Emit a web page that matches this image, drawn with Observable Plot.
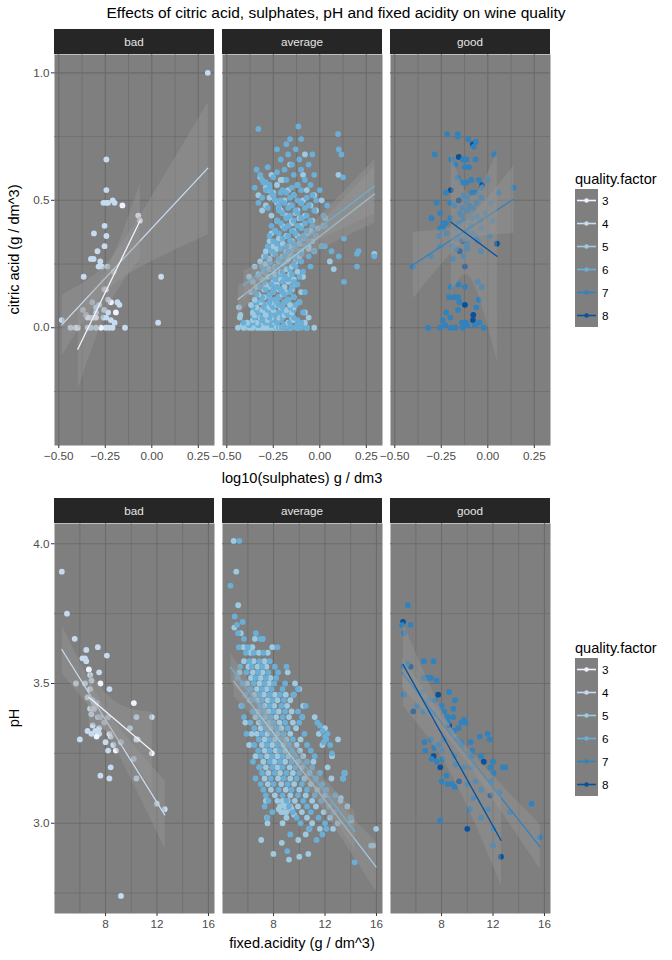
<!DOCTYPE html>
<html><head><meta charset="utf-8">
<script src="https://cdn.jsdelivr.net/npm/d3@7"></script>
<script src="https://cdn.jsdelivr.net/npm/@observablehq/plot@0.6"></script>
<style>
body{margin:0;background:#fff;}
#root{position:relative;width:672px;height:960px;overflow:hidden;background:#fff;font-family:"Liberation Sans",Arial,sans-serif;}
#root svg.plot{position:absolute;left:0;}
</style></head><body><div id="root"></div>
<script>
const FONT = '"Liberation Sans", Arial, sans-serif';
const qualities = [3,4,5,6,7,8];
const qualityColors = ["#EFF3FF","#C6DBEF","#9ECAE1","#6BAED6","#3182BD","#08519C"];
const panels = ["bad","average","good"];

const titleText = "Effects of citric acid, sulphates, pH and fixed acidity on wine quality";
const topXTitle = "log10(sulphates) g / dm3";
const topYTitle = "citric acid (g / dm^3)";
const botXTitle = "fixed.acidity (g / dm^3)";
const botYTitle = "pH";
const legendTitle = "quality.factor";

const sulphDomain = [-0.523, 0.337];
const sulphTicks = [-0.5,-0.25,0,0.25];
const sulphMinor = [-0.375,-0.125,0.125];
const citricDomain = [-0.462, 1.072];
const citricTicks = [0,0.5,1];
const citricMinor = [-0.25,0.25,0.75];
const acidDomain = [4.03, 16.47];
const acidTicks = [8,12,16];
const acidMinor = [6,10,14];
const phDomain = [2.677, 4.0725];
const phTicks = [3,3.5,4];
const phMinor = [2.75,3.25,3.75];

// ---- top: log10(sulphates) [x] vs citric acid [y] ----
const topBadQ3 = [[-0.398,0],[-0.345,0.04],[-0.30,0.04],[-0.273,0],[-0.247,0.15],[-0.22,0.10],[-0.193,0.06],[-0.158,0.48],[-0.073,0.44],[-0.064,0.42]];
const topBadQ4 = [[0.301,1.0],[-0.244,0.66],[-0.244,0.54],[-0.26,0.49],[-0.245,0.49],[-0.235,0.49],[-0.21,0.50],[-0.20,0.49],[-0.254,0.40],[-0.311,0.37],[-0.244,0.36],[-0.254,0.32],[-0.292,0.30],[-0.327,0.27],[-0.313,0.27],[-0.277,0.26],[-0.286,0.24],[-0.268,0.24],[-0.238,0.24],[-0.366,0.20],[0.05,0.20],[-0.205,0.22],[-0.256,0.15],[-0.174,0.09],[-0.30,0.08],[-0.256,0.07],[-0.30,0.06],[-0.235,0.06],[-0.354,0.05],[-0.33,0.04],[-0.313,0.04],[-0.26,0.04],[-0.245,0.04],[-0.22,0.03],[-0.20,0.02],[-0.484,0.03],[0.034,0.02],[-0.437,0],[-0.41,0],[-0.345,0],[-0.327,0],[-0.30,0],[-0.247,0],[-0.229,0],[-0.211,0],[-0.144,0],[-0.37,0.07],[-0.32,0.10],[-0.283,0.09],[-0.235,0.11],[-0.185,0.10]];

// rows: [citric acid, [log10 sulphates ...]]
const topAvgQ5 = [
 [0.00,[-0.44,-0.41,-0.38,-0.36,-0.33,-0.31,-0.29,-0.27,-0.25,-0.23,-0.21,-0.19,-0.16,-0.12,-0.07,-0.03]],
 [0.01,[-0.415,-0.32,-0.26,-0.19,-0.12]],
 [0.02,[-0.39,-0.34,-0.29,-0.24,-0.17,-0.08]],
 [0.03,[-0.36,-0.28,-0.21,-0.14]],
 [0.04,[-0.43,-0.32,-0.26,-0.22,-0.15,-0.06]],
 [0.05,[-0.427,-0.35,-0.29,-0.19]],
 [0.06,[-0.36,-0.29,-0.22,-0.15,-0.08]],
 [0.07,[-0.31,-0.25,-0.18]],
 [0.08,[-0.434,-0.34,-0.27,-0.21,-0.14]],
 [0.09,[-0.37,-0.29,-0.23,-0.16]],
 [0.10,[-0.32,-0.26,-0.19,-0.11]],
 [0.11,[-0.35,-0.24,-0.17]],
 [0.12,[-0.30,-0.22,-0.14]],
 [0.13,[-0.33,-0.27,-0.20]],
 [0.14,[-0.37,-0.25,-0.18,-0.10]],
 [0.15,[-0.30,-0.22,-0.15]],
 [0.16,[-0.34,-0.27,-0.19]],
 [0.17,[-0.29,-0.23,-0.13]],
 [0.18,[-0.36,-0.25,-0.17]],
 [0.19,[-0.31,-0.21,-0.14]],
 [0.20,[-0.38,-0.28,-0.19,-0.09]],
 [0.21,[-0.33,-0.24,-0.16]],
 [0.22,[-0.30,-0.21,-0.12]],
 [0.23,[-0.27,-0.18,0.075]],
 [0.24,[-0.35,-0.24,-0.15]],
 [0.25,[-0.29,-0.20]],
 [0.26,[-0.32,-0.22,-0.13,0.054]],
 [0.27,[-0.27,-0.17]],
 [0.28,[-0.30,-0.20,-0.11]],
 [0.29,[-0.25,-0.16,0.293]],
 [0.30,[-0.29,-0.18,-0.10,-0.03]],
 [0.31,[-0.23,-0.14,-0.06]],
 [0.32,[-0.25,-0.16,-0.06,0.01]],
 [0.33,[-0.20,-0.11]],
 [0.34,[-0.27,-0.15,-0.04]],
 [0.35,[-0.22,-0.09]],
 [0.36,[-0.18,-0.12,-0.02]],
 [0.37,[-0.26,-0.07]],
 [0.38,[-0.24,-0.14,-0.05]],
 [0.39,[-0.19,-0.01]],
 [0.40,[-0.20,-0.10,0.02]],
 [0.41,[-0.15]],
 [0.42,[-0.23,-0.15,-0.04]],
 [0.43,[-0.11,0.03]],
 [0.44,[-0.18,-0.08,-0.26]],
 [0.45,[-0.13,-0.20]],
 [0.46,[-0.21,-0.12,-0.02,-0.31]],
 [0.47,[-0.22]],
 [0.48,[-0.16,-0.05,-0.29]],
 [0.49,[-0.10,-0.23]],
 [0.50,[-0.19,-0.09,0.01,-0.24]],
 [0.51,[-0.27]],
 [0.52,[-0.14,-0.03,-0.33,-0.25]],
 [0.53,[-0.25]],
 [0.54,[-0.17,-0.07,-0.28,-0.27]],
 [0.55,[-0.29]],
 [0.56,[-0.12,-0.23]],
 [0.57,[-0.30]],
 [0.58,[-0.20,-0.21]],
 [0.59,[-0.32]],
 [0.60,[-0.09,0.10,-0.26]],
 [0.64,[-0.16]],
 [0.68,[-0.08]]
];
const topAvgQ6 = [
 [0.00,[-0.40,-0.37,-0.34,-0.32,-0.30,-0.28,-0.265,-0.25,-0.235,-0.22,-0.205,-0.19,-0.17,-0.15,-0.125,-0.10,-0.07]],
 [0.01,[-0.38,-0.33,-0.26,-0.19,-0.12]],
 [0.02,[-0.41,-0.36,-0.29,-0.23,-0.16,-0.10]],
 [0.03,[-0.31,-0.25,-0.21,-0.12]],
 [0.04,[-0.35,-0.31,-0.27,-0.20,-0.14]],
 [0.05,[-0.36,-0.30,-0.24,-0.17]],
 [0.06,[-0.33,-0.26,-0.22,-0.18,-0.09]],
 [0.07,[-0.34,-0.28,-0.21,-0.14]],
 [0.08,[-0.36,-0.30,-0.25,-0.20,-0.16]],
 [0.09,[-0.30,-0.26,-0.22,-0.13]],
 [0.10,[-0.34,-0.27,-0.23,-0.19,-0.11]],
 [0.11,[-0.31,-0.24,-0.17]],
 [0.12,[-0.31,-0.27,-0.22,-0.14]],
 [0.13,[-0.34,-0.27,-0.19]],
 [0.14,[-0.35,-0.25,-0.20,-0.16,-0.08]],
 [0.15,[-0.29,-0.25,-0.21]],
 [0.16,[-0.32,-0.23,-0.15]],
 [0.17,[-0.26,-0.12]],
 [0.18,[-0.30,-0.20,-0.14,0.13]],
 [0.19,[-0.24,-0.17]],
 [0.20,[-0.33,-0.26,-0.19,-0.11]],
 [0.21,[-0.22,-0.15]],
 [0.22,[-0.29,-0.20,-0.09]],
 [0.23,[-0.25,-0.16]],
 [0.24,[-0.31,-0.23,-0.13,-0.05,0.20]],
 [0.25,[-0.20,-0.14]],
 [0.26,[-0.27,-0.18,-0.10]],
 [0.27,[-0.22,-0.12]],
 [0.28,[-0.29,-0.19,-0.14,-0.06,0.102,0.293]],
 [0.29,[-0.24,-0.10,0.20]],
 [0.30,[-0.26,-0.17,-0.11,-0.03,0.063,0.208]],
 [0.31,[-0.21,-0.13]],
 [0.32,[-0.28,-0.18,-0.08,0.01,0.027]],
 [0.33,[-0.23,-0.14]],
 [0.34,[-0.25,-0.16,-0.06]],
 [0.35,[-0.20,-0.11,0.13]],
 [0.36,[-0.27,-0.17,-0.09,-0.02]],
 [0.37,[-0.22,-0.13]],
 [0.38,[-0.24,-0.15,-0.07]],
 [0.39,[-0.19,-0.10]],
 [0.40,[-0.26,-0.17,-0.12,-0.04,0.03]],
 [0.41,[-0.21,-0.08]],
 [0.42,[-0.23,-0.14,-0.05]],
 [0.43,[-0.18,-0.10]],
 [0.44,[-0.16,-0.07,0.02]],
 [0.45,[-0.20,-0.12]],
 [0.46,[-0.22,-0.13,-0.03]],
 [0.47,[-0.17,-0.08,-0.28]],
 [0.48,[-0.15,-0.06,0.04,-0.22]],
 [0.49,[-0.19,-0.10,-0.33]],
 [0.50,[-0.21,-0.12,-0.02,-0.24]],
 [0.51,[-0.16,-0.07,-0.31]],
 [0.52,[-0.14,-0.04,-0.25]],
 [0.53,[-0.18,-0.21,-0.26]],
 [0.54,[-0.20,-0.10,0.00,-0.29]],
 [0.55,[-0.15,-0.35,-0.27]],
 [0.56,[-0.12,-0.05,-0.27]],
 [0.57,[-0.30,-0.29]],
 [0.58,[-0.18,-0.08,-0.31]],
 [0.59,[0.125,-0.25]],
 [0.60,[-0.14,-0.03,-0.32]],
 [0.61,[-0.23]],
 [0.62,[-0.19,-0.10,-0.34]],
 [0.63,[-0.28]],
 [0.64,[-0.15,-0.06]],
 [0.66,[-0.21,-0.11]],
 [0.68,[-0.17,-0.04,0.116]],
 [0.70,[-0.23,-0.13,0.102]],
 [0.72,[-0.18]],
 [0.74,[-0.16,-0.10]],
 [0.76,[0.098]],
 [0.78,[-0.33]],
 [0.79,[-0.115]]
];

const topGoodQ7 = [[-0.218,0.76],[-0.162,0.76],[-0.162,0.75],[-0.105,0.74],[-0.075,0.71],[-0.064,0.73],[-0.286,0.68],[-0.197,0.66],[-0.133,0.66],[-0.114,0.66],[-0.066,0.66],[0.035,0.68],[-0.176,0.64],[-0.123,0.63],[-0.101,0.63],[-0.162,0.59],[-0.14,0.57],[-0.116,0.57],[-0.089,0.58],[-0.048,0.58],[0.0,0.58],[-0.034,0.55],[-0.225,0.53],[-0.131,0.52],[-0.084,0.53],[-0.066,0.53],[-0.112,0.51],[-0.036,0.51],[0.138,0.55],[0.058,0.53],[-0.275,0.49],[-0.202,0.49],[-0.101,0.48],[-0.179,0.48],[-0.137,0.47],[-0.08,0.47],[0.014,0.49],[-0.303,0.43],[-0.256,0.45],[-0.11,0.46],[-0.059,0.44],[-0.013,0.45],[0.026,0.42],[-0.225,0.41],[-0.24,0.41],[-0.155,0.41],[-0.087,0.43],[-0.172,0.39],[-0.257,0.39],[-0.24,0.39],[-0.11,0.38],[-0.034,0.39],[0.01,0.36],[-0.261,0.36],[-0.22,0.37],[-0.158,0.36],[-0.123,0.35],[-0.066,0.36],[-0.054,0.34],[-0.305,0.28],[-0.257,0.32],[-0.19,0.32],[-0.112,0.33],[-0.11,0.31],[-0.038,0.30],[-0.171,0.31],[-0.403,0.24],[-0.131,0.28],[-0.186,0.27],[-0.14,0.44],[-0.09,0.40],[-0.20,0.43],[-0.15,0.45],[-0.06,0.49],[-0.12,0.50],[-0.17,0.35],[-0.08,0.37],[-0.13,0.42],[-0.04,0.42],
 [-0.199,0.16],[-0.158,0.17],[-0.123,0.16],[-0.054,0.18],[-0.034,0.16],[-0.208,0.12],[-0.181,0.12],[-0.16,0.12],[-0.048,0.11],[-0.153,0.10],[-0.062,0.08],[-0.16,0.07],[-0.224,0.06],[-0.202,0.04],[-0.243,0.03],[-0.229,0.01],[-0.32,0],[-0.257,0],[-0.199,0],[-0.174,0],[-0.14,0.02],[-0.119,0.02],[-0.133,0],[-0.11,0.01],[-0.07,0.01],[-0.045,0.02],[-0.022,0]];
const topGoodQ8 = [[-0.080,0.72],[-0.156,0.67],[-0.03,0.56],[-0.199,0.54],[-0.156,0.50],[-0.137,0.34],[0.049,0.33],[-0.151,0.30],[-0.123,0.24],[-0.123,0.09],[-0.08,0.03],[-0.078,0.05]];

// ---- bottom: fixed acidity [x] vs pH [y] ----
const botBadQ3 = [[6.7,3.55],[6.8,3.48],[7.1,3.41],[7.3,3.31],[7.6,3.50],[8.3,3.32],[8.8,3.26],[10.2,3.43],[10.4,3.30],[11.6,3.25]];
const botBadQ4 = [[4.6,3.90],[5.0,3.75],[5.6,3.66],[6.5,3.62],[7.4,3.63],[8.1,3.60],[6.2,3.59],[6.4,3.59],[6.5,3.58],[6.8,3.53],[6.9,3.51],[7.5,3.54],[5.7,3.50],[6.4,3.50],[8.3,3.48],[6.6,3.45],[7.0,3.44],[7.1,3.43],[6.8,3.41],[7.1,3.41],[7.3,3.43],[6.9,3.39],[7.4,3.38],[7.6,3.38],[8.2,3.38],[7.9,3.36],[7.0,3.35],[7.5,3.34],[6.6,3.33],[6.9,3.32],[7.2,3.33],[7.4,3.33],[7.5,3.32],[8.4,3.31],[6.0,3.30],[8.0,3.29],[9.2,3.29],[8.6,3.28],[8.2,3.26],[10.4,3.38],[11.6,3.38],[9.9,3.34],[10.5,3.30],[10.2,3.23],[7.6,3.17],[8.4,3.20],[8.3,3.16],[10.4,3.16],[12.0,3.07],[12.6,3.05],[9.2,2.74]];

// rows: [pH, [fixed acidity ...]]
const botAvgQ5 = [
 [4.01,[4.9]],[3.90,[5.1]],[3.78,[5.25]],[3.70,[4.95]],[3.68,[5.45]],[3.66,[6.55,7.15]],[3.63,[5.65,6.35,7.9]],
 [3.61,[6.2,6.85,7.55]],[3.58,[5.7,6.45,7.3]],[3.56,[6.05,6.75,7.45]],[3.54,[5.35,6.4,7.15,9.1]],
 [3.52,[6.25,7.0,7.75]],[3.50,[5.95,6.9,7.65,9.67]],[3.48,[6.7,7.45,10.0]],[3.46,[6.5,7.25,8.1,8.95,9.56]],
 [3.44,[6.15,6.75,7.55,8.3,9.3]],[3.42,[5.5,7.3,8.05,9.05,10.3]],[3.40,[6.8,7.6,8.4,9.4]],[3.38,[6.6,7.35,8.2,9.2,10.23,11.2]],
 [3.36,[5.8,6.85,7.65,8.45,9.5]],[3.34,[7.0,7.8,8.6,9.75,12.0]],[3.32,[6.3,6.7,7.5,8.3,9.3,11.52]],[3.30,[7.3,8.1,9.0,10.1,13.01]],
 [3.28,[6.1,7.1,7.9,8.75,9.8,11.8]],[3.26,[7.3,8.15,8.9,10.05]],[3.24,[6.6,7.5,8.3,9.15,10.3,12.55]],[3.22,[7.2,8.05,8.9,9.9,11.1]],
 [3.20,[6.9,7.4,8.3,9.25,10.2,12.2]],[3.18,[7.6,8.5,9.5,10.8,13.53]],[3.16,[7.3,8.35,9.3,10.4,12.5,13.4]],
 [3.14,[7.55,8.6,9.6,10.9]],[3.12,[7.8,8.95,10.0,11.4]],[3.10,[8.1,9.3,10.5,12.0]],[3.09,[13.22]],[3.08,[7.4,8.3,9.65,11.0,13.2,8.7,9.1]],
 [3.07,[8.8]],[3.06,[8.5,9.9,11.3,13.73,8.9,9.3]],[3.05,[8.4,9.4]],[3.04,[8.8,10.2,11.9,8.6,9.0]],[3.03,[9.6]],[3.02,[7.48,9.0,10.6,12.4]],[3.01,[14.04]],[3.00,[7.53,8.7,11.0,13.0]],
 [2.98,[10.77,11.6,12.63,15.97]],[2.96,[10.5]],[2.94,[7.04,9.92]],[2.93,[8.64]],[2.92,[15.59,15.74]],[2.89,[7.99,10.7]],
 [2.88,[10.0]],[2.87,[9.2]]
];
const botAvgQ6 = [
 [4.01,[5.34]],[3.85,[4.65]],[3.74,[4.98]],[3.72,[5.6]],[3.71,[5.16]],[3.68,[5.24,6.63]],[3.66,[5.7,6.96,7.14]],[3.63,[5.3,6.0,8.3]],
 [3.61,[5.85,6.45,7.2]],[3.58,[6.1,6.9,7.7]],[3.56,[5.4,6.3,7.1,8.1,9.0]],[3.54,[5.9,6.8,7.6,8.35]],
 [3.52,[5.2,6.6,7.4,8.2]],[3.50,[5.6,6.45,7.3,8.05,8.9]],[3.48,[6.2,7.1,7.85,8.7,9.9]],[3.46,[5.8,6.9,7.7,8.5,9.56]],
 [3.44,[6.3,7.1,7.9,8.8]],[3.42,[5.55,6.95,7.7,8.6,10.5]],[3.40,[6.4,7.2,8.0,8.9,9.9]],[3.38,[5.7,7.0,7.8,8.7,10.23]],
 [3.36,[6.2,7.2,8.0,8.9,10.0,11.4]],[3.35,[11.6]],[3.34,[6.5,7.4,8.2,9.1]],[3.33,[11.8]],[3.32,[5.9,7.1,7.95,8.8,10.4,12.2]],[3.31,[12.0]],[3.30,[6.85,7.7,8.5,9.5,12.1]],
 [3.29,[11.9]],[3.28,[6.5,7.5,8.3,9.2,10.6,12.4]],[3.26,[6.8,7.7,8.5,9.4,10.9]],[3.25,[12.55]],[3.24,[7.0,7.9,8.7,9.6,11.2]],[3.22,[6.4,7.7,8.5,9.4,10.6]],
 [3.20,[6.9,7.9,8.7,9.7,11.0]],[3.18,[7.1,8.1,9.0,10.0,11.6,13.5]],[3.16,[6.6,7.8,8.8,9.8,11.3,13.4]],
 [3.14,[7.0,8.0,9.1,10.2,11.8]],[3.12,[7.2,8.4,9.4,10.6,12.1]],[3.10,[7.4,8.7,9.9,11.2,12.8]],[3.08,[7.6,9.0,10.3,11.7]],
 [3.06,[7.3,9.2,10.6,12.3]],[3.04,[7.9,9.5,10.9,12.7]],[3.02,[7.5,9.8,11.5,14.0]],[3.00,[10.1,12.0]],
 [2.98,[10.8,12.1]],[2.96,[9.3,11.8]],[2.94,[11.34]],[2.90,[9.07]],[2.86,[14.3]]
];

const botGoodQ7 = [[5.38,3.78],[4.92,3.71],[5.59,3.71],[5.08,3.68],[5.33,3.57],[5.05,3.56],[6.62,3.58],[7.38,3.58],[6.62,3.52],[6.87,3.52],[7.18,3.52],[7.62,3.51],[5.08,3.46],[6.46,3.47],[6.08,3.42],[7.0,3.44],[7.49,3.44],[8.59,3.47],[9.05,3.44],[8.0,3.42],[8.92,3.41],[8.21,3.40],[8.38,3.38],[8.5,3.38],[8.9,3.38],[6.59,3.40],[7.05,3.40],[7.38,3.39],[9.74,3.37],[9.87,3.36],[9.54,3.36],[9.33,3.34],[8.72,3.33],[8.97,3.33],[10.97,3.31],[11.59,3.32],[11.74,3.30],[10.26,3.29],[9.49,3.29],[9.56,3.28],[6.67,3.29],[6.72,3.26],[7.18,3.30],[7.44,3.27],[7.74,3.28],[8.0,3.26],[7.23,3.23],[7.64,3.22],[8.08,3.23],[9.0,3.24],[10.38,3.26],[10.33,3.24],[11.08,3.24],[12.0,3.22],[11.79,3.20],[12.77,3.20],[12.95,3.20],[12.05,3.18],[11.85,3.15],[9.1,3.21],[9.74,3.20],[10.31,3.20],[8.38,3.17],[8.0,3.15],[8.46,3.14],[8.8,3.14],[9.03,3.13],[10.0,3.14],[10.64,3.15],[11.08,3.12],[12.49,3.11],[10.46,3.09],[10.2,3.05],[11.08,3.02],[11.62,3.05],[7.9,3.01],[12.05,2.98],[12.0,2.92],[15.0,3.07],[15.64,2.95],[13.33,3.04],[8.5,3.36],[9.2,3.30],[8.2,3.30]];
const botGoodQ8 = [[5.0,3.72],[5.59,3.56],[7.74,3.46],[8.59,3.35],[7.38,3.24],[11.28,3.22],[7.9,3.20],[9.36,3.15],[10.0,2.98],[12.62,2.88],[5.8,3.40],[11.8,3.10]];

// ---- assemble ----
const pts = (list, panel, q) => list.map(([x,y]) => ({x, y, panel, q}));
const rows = (list, panel, q) => list.flatMap(([y,xs]) => xs.map(x => ({x, y, panel, q})));
function interleave(a, b){ const out=[]; const n=Math.max(a.length,b.length); for(let i=0;i<n;i++){ if(i<a.length) out.push(a[i]); if(i<b.length) out.push(b[i]); } return out; }

const topData = [
  ...pts(topBadQ4,"bad",4), ...pts(topBadQ3,"bad",3),
  ...interleave(rows(topAvgQ5,"average",5), rows(topAvgQ6,"average",6)),
  ...interleave(pts(topGoodQ7,"good",7), pts(topGoodQ8,"good",8))
];
const botData = [
  ...pts(botBadQ4,"bad",4), ...pts(botBadQ3,"bad",3),
  ...interleave(rows(botAvgQ5,"average",5), rows(botAvgQ6,"average",6)),
  ...interleave(pts(botGoodQ7,"good",7), pts(botGoodQ8,"good",8))
];

const root = document.getElementById("root");

function facetPlot(o){
  const p = Plot.plot({
    width: 672, height: o.height,
    marginLeft: 53, marginRight: 120, marginTop: o.marginTop, marginBottom: o.marginBottom,
    style: {fontFamily: FONT, fontSize: "11.7px", background: "transparent", overflow: "visible"},
    fx: {domain: panels, axis: null, paddingInner: 0.0456, paddingOuter: 0},
    x: {domain: o.xDomain},
    y: {domain: o.yDomain},
    color: {type: "ordinal", domain: qualities, range: qualityColors},
    marks: [
      Plot.frame({fill: "#7F7F7F", stroke: "none"}),
      Plot.ruleX(o.xMinor, {stroke: "#6B6B6B", strokeWidth: 0.7}),
      Plot.ruleY(o.yMinor, {stroke: "#6B6B6B", strokeWidth: 0.7}),
      Plot.ruleX(o.xMajor, {stroke: "#6B6B6B", strokeWidth: 1.1}),
      Plot.ruleY(o.yMajor, {stroke: "#6B6B6B", strokeWidth: 1.1}),
      Plot.dot(o.data, {x: "x", y: "y", fx: "panel", fill: "q", r: 2.9}),
      Plot.linearRegressionY(o.data, {x: "x", y: "y", fx: "panel", z: "q", stroke: "q", fill: "#999999", fillOpacity: 0.4, strokeWidth: 1.3, clip: true}),
      Plot.axisX({ticks: o.xMajor, tickFormat: o.xFmt, tickSize: 3, tickPadding: 3, fill: "#4D4D4D", stroke: "#333333", label: null}),
      Plot.axisY({ticks: o.yMajor, tickFormat: o.yFmt, tickSize: 3, tickPadding: 2, fill: "#4D4D4D", stroke: "#333333", label: null})
    ]
  });
  p.classList.add("plot");
  p.style.top = o.top + "px";
  const fx = p.scale("fx");
  const g = d3.select(p).append("g");
  const bw = fx.bandwidth;
  for (const v of panels) {
    const x0 = fx.apply(v);
    g.append("rect").attr("x", x0).attr("y", o.marginTop - 25).attr("width", bw).attr("height", 25).attr("fill", "#262626");
    g.append("text").attr("x", x0 + bw/2).attr("y", o.marginTop - 12.5).attr("dy", "0.35em")
      .attr("text-anchor", "middle").attr("fill", "#E5E5E5").style("font", `11.7px ${FONT}`).text(v);
  }
  root.appendChild(p);
  return p;
}

facetPlot({data: topData, top: 0, height: 490, marginTop: 54, marginBottom: 45,
  xDomain: sulphDomain, yDomain: citricDomain, xMajor: sulphTicks, xMinor: sulphMinor,
  yMajor: citricTicks, yMinor: citricMinor, xFmt: d3.format(".2f"), yFmt: d3.format(".1f")});
facetPlot({data: botData, top: 490, height: 470, marginTop: 33, marginBottom: 47,
  xDomain: acidDomain, yDomain: phDomain, xMajor: acidTicks, xMinor: acidMinor,
  yMajor: phTicks, yMinor: phMinor, xFmt: d3.format("d"), yFmt: d3.format(".1f")});

// overlay: titles and legends
const ov = d3.select(root).append("svg").attr("width", 672).attr("height", 960)
  .style("position", "absolute").style("left", 0).style("top", 0).style("pointer-events", "none")
  .style("font-family", FONT);
ov.append("text").attr("x", 336).attr("y", 18).attr("text-anchor", "middle").style("font-size", "15.5px").attr("fill", "#000").text(titleText);
ov.append("text").attr("x", 302).attr("y", 483).attr("text-anchor", "middle").style("font-size", "14.6px").attr("fill", "#000").text(topXTitle);
ov.append("text").attr("x", 302).attr("y", 948).attr("text-anchor", "middle").style("font-size", "14.6px").attr("fill", "#000").text(botXTitle);
ov.append("text").attr("transform", "translate(19,249.5) rotate(-90)").attr("text-anchor", "middle").style("font-size", "14.6px").attr("fill", "#000").text(topYTitle);
ov.append("text").attr("transform", "translate(19,718) rotate(-90)").attr("text-anchor", "middle").style("font-size", "14.6px").attr("fill", "#000").text(botYTitle);

function legend(boxTop){
  const g = ov.append("g").attr("transform", `translate(575,${boxTop})`);
  g.append("text").attr("x", 0).attr("y", -5).style("font-size", "14.6px").attr("fill", "#000").text(legendTitle);
  qualities.forEach((q, i) => {
    const y = i * 23;
    g.append("rect").attr("x", 0).attr("y", y).attr("width", 23).attr("height", 23).attr("fill", "#7F7F7F");
    g.append("line").attr("x1", 2).attr("x2", 21).attr("y1", y + 11.5).attr("y2", y + 11.5).attr("stroke", qualityColors[i]).attr("stroke-width", 1.6);
    g.append("circle").attr("cx", 11.5).attr("cy", y + 11.5).attr("r", 2.2).attr("fill", qualityColors[i]);
    g.append("text").attr("x", 27).attr("y", y + 11.5).attr("dy", "0.35em").style("font-size", "11.7px").attr("fill", "#000").text(q);
  });
}
legend(189);
legend(658);
</script></body></html>
